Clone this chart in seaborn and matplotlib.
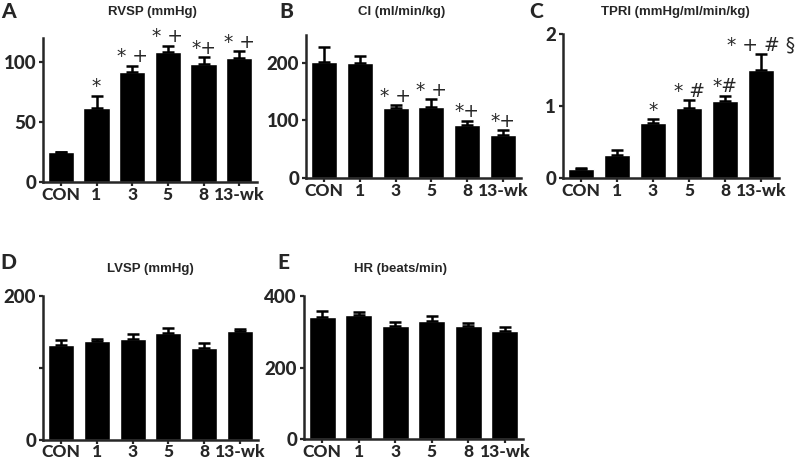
import numpy as np
import pandas as pd
import seaborn as sns
import matplotlib.pyplot as plt

# Groups (weeks after treatment)
groups = ["CON", "1", "3", "5", "8", "13-wk"]

# A - RVSP (mmHg)
rvsp_mean = [24.6, 61.5, 92.1, 108.6, 98.8, 103.9]
rvsp_sem = [0.6, 10.3, 5.1, 5.3, 5.4, 5.3]
rvsp_sig = ["", "*", "* +", "* +", "*+", "* +"]

# B - CI (ml/min/kg)
ci_mean = [202.8, 200.0, 121.3, 124.0, 92.7, 75.2]
ci_sem = [26.2, 13.0, 5.7, 13.6, 7.0, 8.2]
ci_sig = ["", "", "* +", "* +", "*+", "*+"]

# C - TPRI (mmHg/ml/min/kg)
tpri_mean = [0.135, 0.32, 0.764, 0.976, 1.074, 1.50]
tpri_sem = [0.015, 0.07, 0.056, 0.11, 0.07, 0.23]
tpri_sig = ["", "", "*", "* #", "*#", "* + # §"]

# D - LVSP (mmHg)
lvsp_mean = [132.4, 137.9, 140.7, 148.5, 128.2, 151.3]
lvsp_sem = [5.9, 2.8, 5.9, 7.4, 6.5, 3.2]

# E - HR (beats/min)
hr_mean = [341.7, 347.0, 317.6, 331.5, 317.6, 302.8]
hr_sem = [18.3, 9.5, 9.4, 12.0, 8.4, 10.2]

sns.set_style("ticks")
plt.rcParams['font.family'] = ['Lato', 'DejaVu Sans']

W, H = 800, 465
fig = plt.figure(figsize=(8, 4.65), dpi=100)


# Crea un asse a partire da coordinate in pixel (sinistra, alto, destra, basso)
def make_ax(l, t, r, b):
    return fig.add_axes([l / W, 1 - b / H, (r - l) / W, (b - t) / H])


# Disegna un pannello a barre con errore (solo verso l'alto)
def draw_panel(ax, mean, sem, ymax, yticks, ylabels, sig=None):
    df = pd.DataFrame({"group": groups, "value": mean})
    sns.barplot(data=df, x="group", y="value", color="black", width=0.73,
                saturation=1, errorbar=None, ax=ax)
    x = np.arange(len(groups))
    ax.errorbar(x, mean, yerr=[np.zeros(len(sem)), sem], fmt="none",
                ecolor="black", elinewidth=1.8, capsize=4, capthick=1.8)
    ax.set_xlim(-0.5, 5.5)
    ax.set_ylim(0, ymax)
    ax.set_yticks(yticks)
    ax.set_yticklabels(ylabels)
    ax.set_xlabel("")
    ax.set_ylabel("")
    sns.despine(ax=ax)
    for s in ["left", "bottom"]:
        ax.spines[s].set_linewidth(1.8)
    ax.tick_params(axis="both", direction="out", length=3, width=1.6)
    ax.tick_params(axis="y", labelsize=13.5, pad=2)
    ax.tick_params(axis="x", labelsize=12.5, pad=0.5)
    for lab in ax.get_xticklabels() + ax.get_yticklabels():
        lab.set_fontweight(900)
    if sig:
        for i, s in enumerate(sig):
            if s:
                ax.annotate(s, (i, mean[i] + sem[i]), xytext=(0, 2.5),
                            textcoords="offset points", ha="center",
                            va="baseline", fontsize=13.5,
                            family=["DejaVu Sans"])


ax_a = make_ax(43, 38.3, 257, 181.7)
draw_panel(ax_a, rvsp_mean, rvsp_sem, 120, [0, 50, 100], ["0", "50", "100"], rvsp_sig)

ax_b = make_ax(306, 34.7, 521, 177.7)
draw_panel(ax_b, ci_mean, ci_sem, 250, [0, 100, 200], ["0", "100", "200"], ci_sig)

ax_c = make_ax(563, 34.3, 779, 178.3)
draw_panel(ax_c, tpri_mean, tpri_sem, 2, [0, 1, 2], ["0", "1", "2"], tpri_sig)

ax_d = make_ax(43, 296, 258, 439.5)
draw_panel(ax_d, lvsp_mean, lvsp_sem, 200, [0, 100, 200], ["0", "", "200"])

ax_e = make_ax(304, 296.3, 523, 439)
draw_panel(ax_e, hr_mean, hr_sem, 400, [0, 200, 400], ["0", "200", "400"])

# Titoli e lettere dei pannelli
titles = [("A", 1, 11, "RVSP (mmHg)", 152, 11.5),
          ("B", 279, 11, "CI (ml/min/kg)", 402, 11.5),
          ("C", 529, 11, "TPRI (mmHg/ml/min/kg)", 675, 11.5),
          ("D", 0, 262, "LVSP (mmHg)", 150, 269),
          ("E", 277, 262, "HR (beats/min)", 401, 269)]
for letter, lx, ly, title, tx, ty in titles:
    fig.text(lx / W, 1 - ly / H, letter, fontsize=15, fontweight=900,
             ha="left", va="center")
    fig.text(tx / W, 1 - ty / H, title, fontsize=9.5, fontweight="bold",
             ha="center", va="center", family=["Liberation Sans"])

fig.savefig("out.png", dpi=100)
